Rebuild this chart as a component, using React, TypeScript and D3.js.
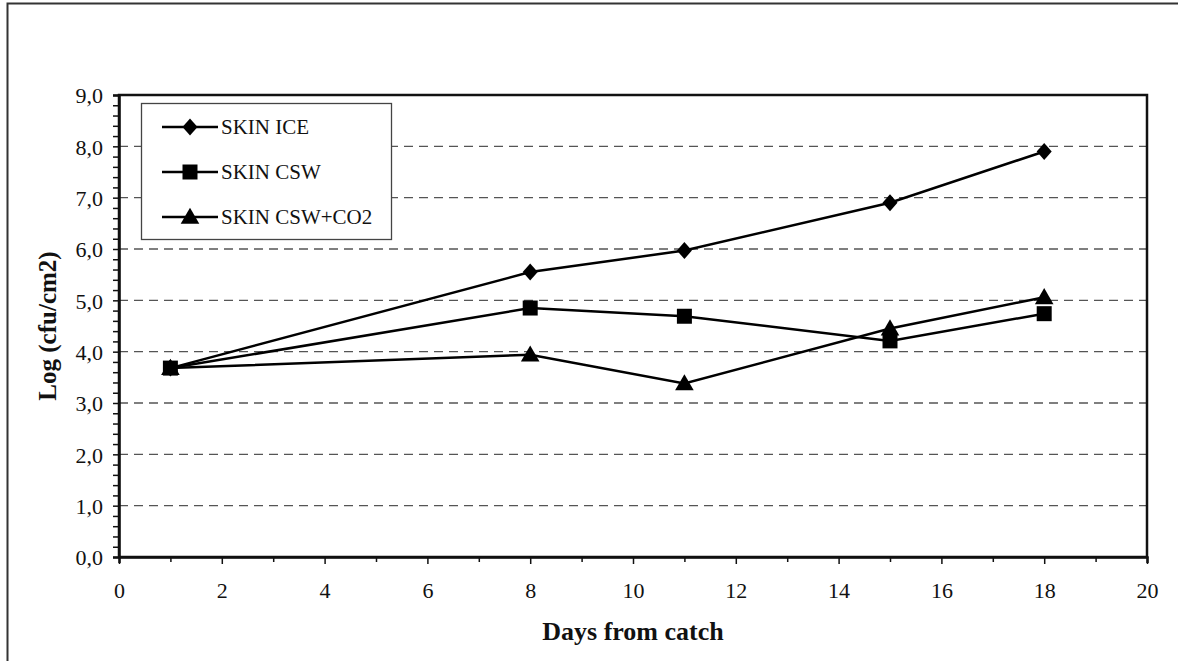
import * as d3 from 'd3';
import { useEffect, useRef } from 'react';

// chart data
const days = [1, 8, 11, 15, 18];
const skinIce = [3.68, 5.55, 5.97, 6.9, 7.9];
const skinCsw = [3.68, 4.85, 4.69, 4.21, 4.74];
const skinCswCo2 = [3.68, 3.94, 3.38, 4.45, 5.06];
const seriesNames = ['SKIN ICE', 'SKIN CSW', 'SKIN CSW+CO2'];
const yTicks = [0, 1, 2, 3, 4, 5, 6, 7, 8, 9];
const xTicks = [0, 2, 4, 6, 8, 10, 12, 14, 16, 18, 20];

const FONT = '"Liberation Serif", "Times New Roman", serif';

export default function App() {
  const svgRef = useRef<SVGSVGElement | null>(null);

  useEffect(() => {
    if (!svgRef.current) return;
    const width = 1178;
    const height = 661;
    const margin = { top: 95, right: 31, bottom: 104, left: 119 };

    const svg = d3.select(svgRef.current)
      .attr('width', width)
      .attr('height', height);
    svg.selectAll('*').remove();

    const x = d3.scaleLinear().domain([0, 20]).range([margin.left, width - margin.right]);
    const y = d3.scaleLinear().domain([0, 9]).range([height - margin.bottom, margin.top]);

    // outer frame (cut off at right and bottom)
    svg.append('path')
      .attr('d', `M7.5,${height + 5} L7.5,3.5 L${width + 5},3.5`)
      .attr('fill', 'none')
      .attr('stroke', '#333')
      .attr('stroke-width', 2);

    // dashed grid
    svg.append('g')
      .selectAll('line')
      .data(yTicks.filter((t) => t > 0 && t < 9))
      .join('line')
      .attr('x1', x(0))
      .attr('x2', x(20))
      .attr('y1', (d) => y(d))
      .attr('y2', (d) => y(d))
      .attr('stroke', '#555')
      .attr('stroke-width', 1.3)
      .attr('stroke-dasharray', '9,6');

    // plot frame
    svg.append('rect')
      .attr('x', x(0))
      .attr('y', y(9))
      .attr('width', x(20) - x(0))
      .attr('height', y(0) - y(9))
      .attr('fill', 'none')
      .attr('stroke', '#111')
      .attr('stroke-width', 2.5);

    // y axis
    const yAxis = d3.axisLeft(y)
      .tickValues(d3.range(0, 9.01, 0.2))
      .tickSize(6)
      .tickFormat((d) => {
        const v = +d;
        return Math.abs(v - Math.round(v)) < 1e-6 ? d3.format('.1f')(v).replace('.', ',') : '';
      });
    svg.append('g')
      .attr('transform', `translate(${x(0)},0)`)
      .call(yAxis)
      .call((g) => g.select('.domain').attr('stroke', '#111').attr('stroke-width', 2.5))
      .call((g) => g.selectAll('.tick line').attr('stroke', '#111').attr('stroke-width', 1.5))
      .call((g) => g.selectAll('text')
        .attr('font-family', FONT)
        .attr('font-size', 22)
        .attr('fill', '#111')
        .attr('x', -16)
        .attr('dy', '0.35em'));

    // x axis
    const xAxis = d3.axisBottom(x)
      .tickValues(d3.range(0, 21, 1))
      .tickSize(6)
      .tickFormat((d) => (xTicks.includes(+d) ? String(d) : ''));
    svg.append('g')
      .attr('transform', `translate(0,${y(0)})`)
      .call(xAxis)
      .call((g) => g.select('.domain').attr('stroke', '#111').attr('stroke-width', 2.5))
      .call((g) => g.selectAll('.tick line')
        .attr('stroke', '#111')
        .attr('stroke-width', 1.5)
        .attr('y2', (d: any) => (xTicks.includes(+d) ? 7 : 5)))
      .call((g) => g.selectAll('text')
        .attr('font-family', FONT)
        .attr('font-size', 22)
        .attr('fill', '#111')
        .attr('y', 33)
        .attr('dy', '0.35em'));

    // axis titles
    svg.append('text')
      .attr('x', (x(0) + x(20)) / 2)
      .attr('y', 640)
      .attr('text-anchor', 'middle')
      .attr('font-family', FONT)
      .attr('font-weight', 'bold')
      .attr('font-size', 26)
      .attr('fill', '#111')
      .text('Days from catch');

    svg.append('text')
      .attr('transform', `translate(56,${(y(0) + y(9)) / 2}) rotate(-90)`)
      .attr('text-anchor', 'middle')
      .attr('font-family', FONT)
      .attr('font-weight', 'bold')
      .attr('font-size', 25)
      .attr('fill', '#111')
      .text('Log (cfu/cm2)');

    const diamond = 'M0,-8.5L7.5,0L0,8.5L-7.5,0Z';
    const square = d3.symbol().type(d3.symbolSquare).size(225)() as string;
    const triangle = d3.symbol().type(d3.symbolTriangle).size(150)() as string;
    const markers = [diamond, square, triangle];

    const line = d3.line<number>()
      .x((_, i) => x(days[i]))
      .y((d) => y(d));

    const allSeries = [skinIce, skinCsw, skinCswCo2];
    allSeries.forEach((vals) => {
      svg.append('path')
        .datum(vals)
        .attr('fill', 'none')
        .attr('stroke', '#000')
        .attr('stroke-width', 2.5)
        .attr('d', line);
    });
    allSeries.forEach((vals, si) => {
      svg.append('g')
        .selectAll('path')
        .data(vals)
        .join('path')
        .attr('transform', (d, i) => `translate(${x(days[i])},${y(d) + (si === 2 ? 1.5 : 0)})`)
        .attr('d', markers[si])
        .attr('fill', '#000');
    });

    // legend
    const legend = svg.append('g');
    legend.append('rect')
      .attr('x', 141.5)
      .attr('y', 103.5)
      .attr('width', 250)
      .attr('height', 136)
      .attr('fill', '#fff')
      .attr('stroke', '#444')
      .attr('stroke-width', 1.3);
    seriesNames.forEach((name, i) => {
      const ly = 127 + i * 45;
      legend.append('line')
        .attr('x1', 162)
        .attr('x2', 218)
        .attr('y1', ly)
        .attr('y2', ly)
        .attr('stroke', '#000')
        .attr('stroke-width', 2.5);
      legend.append('path')
        .attr('transform', `translate(190,${ly + (i === 2 ? 1.5 : 0)})`)
        .attr('d', markers[i])
        .attr('fill', '#000');
      legend.append('text')
        .attr('x', 221)
        .attr('y', ly)
        .attr('dy', '0.35em')
        .attr('font-family', FONT)
        .attr('font-size', 21)
        .attr('fill', '#111')
        .text(name);
    });
  }, []);

  return (
    <svg
      ref={svgRef}
      style={{ position: 'absolute', left: 0, top: 0, background: '#fff' }}
    />
  );
}
